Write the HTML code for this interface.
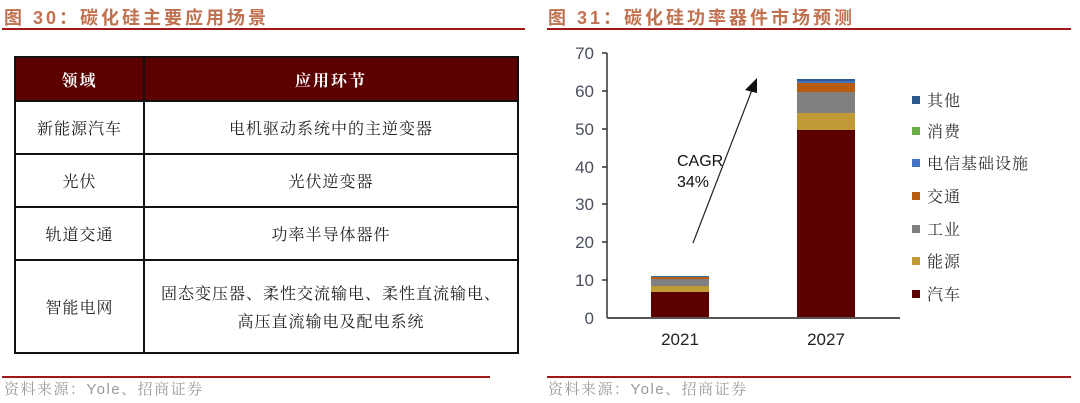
<!DOCTYPE html>
<html><head><meta charset="utf-8"><style>
body{margin:0;width:1080px;height:403px;background:#fff;position:relative;overflow:hidden;font-family:"Noto Serif CJK SC","Liberation Serif",serif}
.t{position:absolute;color:#c0714f;font-weight:bold;font-size:18px;letter-spacing:3px;font-family:"Liberation Sans","Noto Sans CJK SC",sans-serif;top:4px}
.ln{position:absolute;height:2px;background:#a01818}
.src{position:absolute;top:378px;color:#999;font-size:15px;letter-spacing:1.5px;font-family:"Liberation Sans","Noto Serif CJK SC",serif}
table{position:absolute;left:14px;top:56px;width:505px;height:298px;border-collapse:collapse;font-size:16px;color:#222;letter-spacing:1px}
td{border:2px solid #111;text-align:center;line-height:28px}
th{background:#5c0000;color:#fff;border:2px solid #111;font-size:16px;height:40px;letter-spacing:2px}
</style></head><body>
<div class="t" style="left:4px">图 30：碳化硅主要应用场景</div>
<div class="ln" style="left:2px;top:28px;width:523px"></div>
<div class="t" style="left:548px">图 31：碳化硅功率器件市场预测</div>
<div class="ln" style="left:547px;top:28px;width:524px"></div>
<table>
<tr><th style="width:125px">领域</th><th>应用环节</th></tr>
<tr><td style="height:49px">新能源汽车</td><td>电机驱动系统中的主逆变器</td></tr>
<tr><td style="height:49px">光伏</td><td>光伏逆变器</td></tr>
<tr><td style="height:49px">轨道交通</td><td>功率半导体器件</td></tr>
<tr><td>智能电网</td><td>固态变压器、柔性交流输电、柔性直流输电、<br>高压直流输电及配电系统</td></tr>
</table>
<div class="ln" style="left:2px;top:376px;width:488px"></div>
<div class="src" style="left:4px">资料来源：Yole、招商证券</div>
<div class="ln" style="left:547px;top:376px;width:524px"></div>
<div class="src" style="left:548px">资料来源：Yole、招商证券</div>
<svg style="position:absolute;left:0;top:0" width="1080" height="403">
<g font-family="Liberation Sans,sans-serif" font-size="17" fill="#4a4f5e" text-anchor="end">
<text x="594" y="59">70</text><text x="594" y="97">60</text><text x="594" y="135">50</text><text x="594" y="173">40</text><text x="594" y="210">30</text><text x="594" y="248">20</text><text x="594" y="286">10</text><text x="594" y="324">0</text>
</g>
<g stroke="#333" stroke-width="1.5">
<line x1="607" y1="53" x2="607" y2="318"/>
<line x1="602" y1="53" x2="607" y2="53"/><line x1="602" y1="91" x2="607" y2="91"/><line x1="602" y1="129" x2="607" y2="129"/><line x1="602" y1="167" x2="607" y2="167"/><line x1="602" y1="204" x2="607" y2="204"/><line x1="602" y1="242" x2="607" y2="242"/><line x1="602" y1="280" x2="607" y2="280"/>
</g>
<rect x="651" y="292" width="58" height="26" fill="#5c0000"/>
<rect x="651" y="286" width="58" height="6" fill="#c09a36"/>
<rect x="651" y="279" width="58" height="7" fill="#808080"/>
<rect x="651" y="277" width="58" height="2" fill="#b85c10"/>
<rect x="651" y="276" width="58" height="1" fill="#3a6ea0"/>
<rect x="797" y="130" width="58" height="188" fill="#5c0000"/>
<rect x="797" y="113" width="58" height="17" fill="#c09a36"/>
<rect x="797" y="92" width="58" height="21" fill="#808080"/>
<rect x="797" y="83" width="58" height="9" fill="#b85c10"/>
<rect x="797" y="81" width="58" height="2" fill="#4472c4"/>
<rect x="797" y="79" width="58" height="2" fill="#2a5b8c"/>
<line x1="607" y1="318" x2="900" y2="318" stroke="#555" stroke-width="2"/>
<g font-family="Liberation Sans,sans-serif" font-size="17" fill="#222" text-anchor="middle">
<text x="680" y="345">2021</text><text x="826" y="345">2027</text></g>
<line x1="693" y1="243" x2="752" y2="90" stroke="#222" stroke-width="1.2"/>
<polygon points="757,78 745,90 757,93" fill="#111"/>
<g font-family="Liberation Sans,sans-serif" font-size="16" fill="#111"><text x="677" y="166">CAGR</text><text x="677" y="187">34%</text></g>
<g font-family="Noto Serif CJK SC,Liberation Serif,serif" font-size="16" fill="#333" letter-spacing="1">
<rect x="912" y="96" width="8" height="8" fill="#2a5b8c"/><text x="927" y="106">其他</text>
<rect x="912" y="127" width="8" height="8" fill="#6aac46"/><text x="927" y="137">消费</text>
<rect x="912" y="159" width="8" height="8" fill="#4472c4"/><text x="927" y="169">电信基础设施</text>
<rect x="912" y="192" width="8" height="8" fill="#b85c10"/><text x="927" y="202">交通</text>
<rect x="912" y="225" width="8" height="8" fill="#808080"/><text x="927" y="235">工业</text>
<rect x="912" y="257" width="8" height="8" fill="#c09a36"/><text x="927" y="267">能源</text>
<rect x="912" y="290" width="8" height="8" fill="#5c0000"/><text x="927" y="300">汽车</text>
</g>
</svg>
</body></html>
